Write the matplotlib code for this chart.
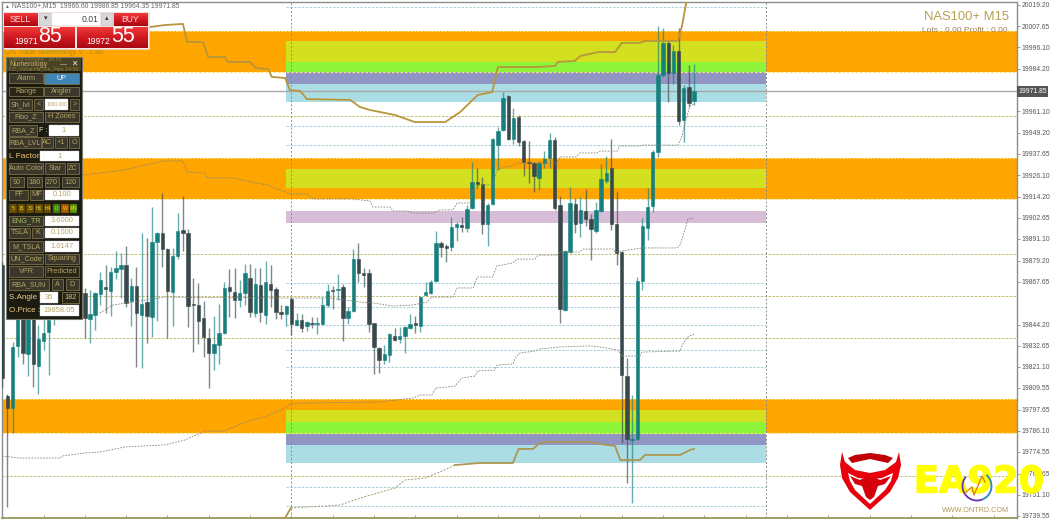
import numpy as np
import matplotlib
matplotlib.use('Agg')
import matplotlib.pyplot as plt
import matplotlib.patheffects as pe
from matplotlib.patches import Rectangle, Polygon, Arc

plt.rcParams['font.family'] = ['Liberation Sans', 'DejaVu Sans']

# candles, bar -1 is the first one at the left edge
highs = [19878.5,19806.3,19834.7,19857.7,19863.2,19857.7,19860.4,19844.0,19847.9,19857.7,
         19865.9,19874.1,19879.6,19882.3,19876.9,19874.1,19864.3,19863.2,19862.1,19873.0,
         19876.9,19875.8,19884.5,19883.5,19887.3,19869.8,19875.8,19894.4,19891.6,19908.6,
         19894.9,19916.3,19886.2,19886.2,19905.3,19914.6,19896.6,19869.8,19867.0,19857.2,
         19842.4,19848.9,19855.5,19867.6,19874.7,19875.2,19868.7,19877.4,19877.4,19875.2,
         19875.2,19879.1,19876.9,19864.8,19855.0,19855.0,19859.3,19850.6,19850.0,19846.2,
         19848.4,19848.4,19859.3,19866.5,19865.4,19871.9,19866.5,19853.9,19885.6,19888.9,
         19875.2,19874.7,19845.1,19832.0,19833.1,19839.6,19842.4,19842.9,19843.5,19850.0,
         19848.9,19859.9,19867.6,19868.7,19895.5,19890.0,19888.4,19903.1,19900.4,19903.1,
         19909.7,19933.2,19930.0,19925.0,19910.8,19946.4,19952.4,19971.5,19969.9,19962.8,
         19959.0,19945.3,19944.7,19933.2,19933.8,19939.2,19949.1,19946.9,19914.6,19885.1,
         19919.6,19913.5,19914.1,19918.5,19904.8,19911.3,19932.1,19936.5,19945.8,19916.8,
         19884.5,19826.0,19805.7,19870.3,19902.6,19919.0,19939.8,20007.7,20006.6,20000.0,
         19997.3,20006.6,19975.4,19986.3,19986.85]
lows = [19810.1,19744.4,19784.9,19826.5,19822.7,19816.1,19810.1,19806.3,19830.3,19816.7,
        19844.0,19849.5,19852.2,19855.0,19857.7,19855.0,19836.9,19834.2,19841.3,19855.0,
        19850.6,19848.9,19869.2,19858.8,19853.9,19843.5,19821.0,19820.5,19834.2,19837.5,
        19846.2,19875.8,19836.9,19843.5,19880.1,19884.5,19842.9,19829.2,19833.6,19826.5,
        19809.5,19819.4,19822.7,19839.1,19848.4,19847.9,19853.9,19855.0,19848.4,19848.4,
        19845.7,19844.6,19853.9,19847.3,19847.3,19843.5,19838.5,19843.5,19840.2,19840.7,
        19842.4,19839.1,19844.0,19853.9,19852.8,19857.7,19835.3,19844.6,19851.1,19867.6,
        19864.8,19840.2,19817.2,19817.8,19822.7,19823.8,19835.3,19834.2,19828.7,19841.8,
        19839.6,19840.2,19859.9,19861.0,19867.6,19881.2,19878.5,19884.5,19890.0,19894.9,
        19894.9,19907.5,19919.0,19893.8,19887.3,19909.7,19928.9,19950.2,19945.3,19943.1,
        19942.0,19925.6,19921.8,19916.8,19917.9,19930.0,19930.0,19907.0,19845.1,19851.7,
        19883.5,19894.4,19892.2,19898.2,19879.6,19894.4,19905.9,19921.8,19896.0,19876.9,
        19779.4,19757.6,19746.6,19781.1,19863.2,19890.5,19905.9,19936.0,19979.8,19966.1,
        19975.9,19953.5,19944.2,19963.3,19964.35]
opens = [19876.9,19805.2,19798.6,19832.6,19857.7,19828.2,19855.0,19821.6,19835.3,19840.2,
         19847.9,19868.7,19876.9,19860.4,19863.2,19871.4,19861.5,19847.3,19849.5,19861.0,
         19864.8,19862.6,19873.0,19874.7,19876.9,19857.2,19865.4,19849.5,19856.6,19848.4,
         19889.4,19894.4,19885.6,19862.1,19881.8,19896.0,19894.4,19855.5,19855.0,19847.9,
         19836.9,19828.7,19833.1,19839.6,19864.8,19862.1,19857.7,19861.5,19869.8,19850.6,
         19865.9,19849.5,19866.5,19863.7,19851.1,19850.0,19858.2,19844.0,19846.8,19843.5,
         19845.1,19844.6,19844.6,19855.0,19863.2,19863.2,19864.8,19847.9,19851.7,19880.1,
         19872.5,19872.5,19844.9,19831.4,19824.9,19827.6,19838.0,19836.4,19838.0,19842.4,
         19845.1,19843.5,19860.4,19861.5,19868.1,19888.9,19887.3,19886.7,19897.7,19898.8,
         19897.1,19908.1,19922.3,19921.2,19899.3,19910.2,19942.5,19950.7,19969.4,19945.8,
         19957.9,19944.7,19933.2,19932.7,19924.5,19932.7,19935.4,19945.3,19909.7,19852.2,
         19884.0,19910.2,19899.9,19906.4,19902.0,19895.5,19906.4,19922.8,19930.0,19899.3,
         19884.0,19816.1,19781.1,19781.6,19868.1,19897.1,19909.2,19938.7,19980.9,19998.4,
         19981.9,19994.0,19956.2,19974.3,19966.6]
closes = [19815.0,19798.6,19832.0,19852.2,19828.7,19852.2,19822.7,19836.4,19839.6,19846.8,
          19863.2,19857.7,19863.2,19876.9,19871.4,19862.1,19847.9,19850.0,19861.5,19868.7,
          19863.7,19873.0,19875.2,19876.9,19856.1,19865.4,19850.6,19855.5,19848.9,19889.4,
          19894.4,19885.6,19862.6,19881.8,19895.5,19894.4,19854.4,19855.0,19846.2,19837.5,
          19828.7,19833.6,19839.6,19864.3,19862.6,19857.7,19861.5,19872.5,19851.1,19866.5,
          19851.1,19867.6,19863.2,19851.1,19850.0,19854.4,19844.6,19846.8,19842.4,19845.7,
          19844.6,19845.1,19855.0,19862.6,19862.6,19863.7,19847.9,19851.7,19880.1,19872.5,
          19871.4,19844.6,19832.0,19824.9,19828.2,19839.1,19835.8,19838.0,19842.9,19844.6,
          19844.0,19859.3,19862.1,19867.6,19888.9,19886.7,19886.2,19897.7,19899.3,19897.7,
          19907.5,19922.3,19921.2,19899.3,19909.7,19945.8,19950.2,19968.3,19945.8,19957.3,
          19944.2,19933.2,19932.7,19925.6,19932.7,19934.9,19945.3,19908.1,19852.8,19884.5,
          19910.8,19899.3,19907.0,19902.0,19896.6,19907.0,19923.9,19927.2,19899.3,19883.5,
          19816.7,19781.6,19781.6,19868.1,19898.2,19908.6,19938.7,19980.9,19998.4,19981.9,
          19994.0,19955.7,19973.7,19965.5,19971.85]
bars = np.arange(-1, 134)

# indicator lines
upper_gold_x = [27.6,30.5,34,34.8,37.9,38.9,42.1,42.7,47,48.1,50.5,51.2,53.8,54.7,56.7,58,66.4,68.3,70.2,75,78.9,84.8,87.7,91.1,93.9,95,102.2,106.1,106.6,109.9,110.9,114.4,117.7,119,122.5,123.5,129.9,130.7,131.4,132]
upper_gold_y = [20007.1,20008.2,20008.8,19998.9,19998.9,19990.7,19990.7,19988,19988,19984.7,19984.1,19979.8,19979.2,19972.6,19972.1,19967.7,19967.2,19963.3,19961.7,19959,19955.1,19955.1,19960.6,19969.9,19971.5,19985.2,19985.2,19985.8,19988,19988.5,19991.2,19993.4,19993.4,19998.4,19998.4,19999.5,19999.5,20008.2,20019.2,20024.6]
lower_gold_x = [50.9,53.8,54.9,64.4,68.3,75.1,77,80.9,83.8,86.7,91.5,97.9,99,101.8,103.1,104.1,112.8,114.8,117.7,118.7,119,122.5,123.5,130.3,132.2,133]
lower_gold_y = [19738.4,19738.4,19743.9,19745.5,19749.3,19754.8,19759.2,19760.3,19763.6,19767.4,19768.5,19768.5,19776.2,19776.2,19779.4,19780,19780,19778.9,19777.8,19770.1,19770.1,19770.1,19772.9,19772.9,19775.6,19776.2]
low_dash_x = [-1,2.4,10.2,10.6,15,17.9,22.8,30.5,34.4,38.3,42.1,46,49.9,53.8,54.7,56.7,72.2,78.6,79.9,82.2,83,86.7,88,90.6,91.1,94.4,94.8,97.9,98.5,99.3,102.2,103.1,107,112.8,114.8,118.3,119,122.5,122.9,130.3,130.7,131.8,133]
low_dash_y = [19772.3,19771.2,19771.2,19772.3,19774,19774.5,19777.3,19778.4,19781.1,19786,19786,19790.9,19793.7,19798.6,19800.8,19801.3,19801.9,19804.1,19805.7,19805.7,19809.5,19810.6,19815,19816.1,19818.9,19819.4,19822.1,19822.7,19826.5,19828.7,19829.8,19830.9,19832,19832.6,19832,19830.3,19827,19827,19829.2,19829.8,19833.1,19837.5,19839.1]
mid_dash_x = [17.9,20.5,30.5,53.8,62.5,65.4,68.3,70.8,74.7,78.6,81.3,82.2,86.3,87.1,90.2,91,94,94.8,97.9,98.7,102.2,102.8,106.5,107,110.9,111.5,117.3,117.7,122.9,129.7,130.3,131.2,131.8,133]
mid_dash_y = [19850.6,19855,19859.3,19858.8,19858.8,19857.7,19856.6,19856.1,19854.4,19855,19856.6,19859.3,19859.3,19864.3,19864.3,19870.3,19870.3,19876.3,19878,19880.1,19880.1,19882.3,19882.3,19884,19884,19885.6,19885.6,19884,19886.2,19886.2,19887.8,19896,19902,19902.6]
high_dash_x = [14.6,17.9,22.8,26.8,30.1,34,34.8,38.3,38.7,43.7,46.4,50.3,52.8,55.1,58,59.2,66.9,70.2,70.8,74.1,74.7,77.4,78.6,82.4,83.8,86.3,87.1,89.6,90.2,91.5,94,94.8,96.4,97.9,98.5,106.5,107,110.1,110.9,114.2,114.8,118.1,118.6,122.5,123.1,129.9,130.7,131.4,132.2,133]
high_dash_y = [19926.1,19927.2,19928.9,19931.6,19933.8,19933.8,19927.8,19927.2,19924.5,19924.5,19922.8,19920.7,19917.9,19915.7,19915.7,19913,19913,19911.9,19908.6,19908.6,19906.4,19906.4,19905.3,19905.3,19907,19907,19910.8,19910.8,19917.9,19920.7,19920.7,19928.9,19930.5,19931,19932.7,19932.7,19936,19936,19938.2,19938.2,19939.2,19939.2,19942,19942,19942.5,19942.5,19948,19956.2,19963.9,19965]

# price levels
price_ticks = [20019.20,20007.65,19996.10,19984.20,19961.10,19949.20,19937.65,19926.10,19914.20,19902.65,19891.10,19879.20,19867.65,19844.20,19832.65,19821.10,19809.55,19797.65,19786.10,19774.55,19762.65,19751.10,19739.55]
current_price = 19971.85
khaki_levels = [19958.6,19882.9,19860.0,19837.0,19761.5]
blue_levels = [20017.9,19952.9,19942.5,19867.1,19853.9,19844.0,19830.3,19821.0,19755.4,19745.0]
orange_bands = [(20004.9,19982.5),(19935.4,19913.0),(19803.5,19784.9)]
zone_bands = [(19999.5,19988.0,'#d3e01f'),(19988.0,19982.5,'#8cf53a'),(19982.5,19975.9,'#9195c3'),(19975.9,19966.1,'#abdde4'),
              (19929.4,19919.0,'#d3e01f'),
              (19906.4,19899.9,'#d8bdd8'),
              (19797.5,19790.9,'#d3e01f'),(19790.9,19784.4,'#8cf53a'),(19784.4,19778.4,'#9195c3'),(19778.4,19768.5,'#abdde4')]
zone_start, zone_end = 54, 146.9
v_lines = [54.9, 146.9]

fig = plt.figure(figsize=(10.61, 5.21), dpi=100, facecolor='white')
ax = fig.add_axes([2/1061, 3/521, 1015/1061, 516/521])
ax.set_xlim(-1.05, 195.55)
ax.set_ylim(19738.4, 20020.8)

for top, bottom in orange_bands:
    ax.axhspan(bottom, top, color='#ffa500', lw=0, zorder=1)
    ax.axhline(top, color='#ffe27a', lw=0.7, ls=(0, (2, 1.5)), zorder=1.2)
    ax.axhline(bottom, color='#ffe27a', lw=0.9, ls=(0, (2, 1.5)), zorder=1.2)
for top, bottom, col in zone_bands:
    ax.fill_between([zone_start, zone_end], bottom, top, color=col, lw=0, zorder=1.1)

ax.hlines(khaki_levels, -1.05, 195.55, color='#c4bb70', lw=0.7, ls=(0, (2.5, 1.5)), zorder=1.5)
ax.hlines(blue_levels, zone_start, zone_end, color='#a5cfda', lw=0.7, ls=(0, (2.5, 1.5)), zorder=1.5)
ax.axhline(current_price, color='#a8a8a8', lw=1.0, zorder=2)
for v in v_lines:
    ax.axvline(v, color='#8c8c8c', lw=0.7, ls=(0, (2, 2)), zorder=2)

# candles
teal, dark = '#17807f', '#38484b'
up = np.array(closes) >= np.array(opens)
colors = [teal if u else dark for u in up]
ax.vlines(bars, lows, highs, colors=colors, lw=1.0, alpha=0.65, zorder=3)
body_low = np.minimum(opens, closes)
body_height = np.abs(np.array(closes) - np.array(opens))
ax.bar(bars, body_height, bottom=body_low, width=0.66, color=colors, edgecolor=colors, lw=0.4, zorder=4)

ax.plot(upper_gold_x, upper_gold_y, color='#b8963c', lw=1.3, zorder=5)
# the lower line is dotted in its middle stretch
ax.plot(lower_gold_x[:3], lower_gold_y[:3], color='#ae9650', lw=1.3, zorder=5)
ax.plot(lower_gold_x[2:10], lower_gold_y[2:10], color='#a09a70', lw=0.7, ls=(0, (2, 1.5)), zorder=5)
ax.plot(lower_gold_x[9:], lower_gold_y[9:], color='#ae9650', lw=1.3, zorder=5)
for xs, ys in [(low_dash_x, low_dash_y), (mid_dash_x, mid_dash_y), (high_dash_x, high_dash_y)]:
    ax.plot(xs, ys, color='#85857a', lw=0.6, ls=(0, (2, 1.5)), zorder=5)

ax.yaxis.tick_right()
ax.set_yticks(price_ticks)
ax.set_yticklabels(['%.2f' % p for p in price_ticks], fontsize=4.9, color='#555555')
ax.set_xticks(np.arange(7, 195, 8))
ax.set_xticklabels([])
ax.tick_params(axis='y', length=2, width=0.5, color='#777777', pad=1.2)
ax.tick_params(axis='x', direction='in', length=2, width=0.5, color='#8a8a50')
for side in ['top', 'left', 'right']:
    ax.spines[side].set_color('#8c8c8c')
    ax.spines[side].set_linewidth(1.0)
ax.spines['bottom'].set_color('#8f8f50')
ax.spines['bottom'].set_linewidth(1.2)
ax.text(1.0012, current_price, '19971.85', transform=ax.get_yaxis_transform(), fontsize=4.9, color='white',
        va='center', ha='left', bbox=dict(facecolor='#555555', edgecolor='none', pad=1.2), zorder=10)

# pixel overlay for the terminal widgets
ov = fig.add_axes([0, 0, 1, 1], facecolor='none')
ov.set_xlim(0, 1061)
ov.set_ylim(521, 0)
ov.axis('off')


def box(x0, y0, x1, y1, face, edge='none', lw=0.6, z=20):
    ov.add_patch(Rectangle((x0, y0), x1 - x0, y1 - y0, facecolor=face, edgecolor=edge, lw=lw, zorder=z))


def label(x, y, s, color='#b8a868', size=5.0, ha='center', z=22, **kw):
    ov.text(x, y, s, color=color, fontsize=size, ha=ha, va='center', zorder=z, **kw)


def button(x0, y0, x1, y1, s, face='#3b382b', color='#b4a463', size=5.2):
    box(x0, y0, x1, y1, face, '#7b7048')
    label((x0 + x1) / 2, (y0 + y1) / 2, s, color, size)


def field(x0, y0, x1, y1, s, size=5.4):
    box(x0, y0, x1, y1, 'white', '#d0d0d0', 0.3)
    label((x0 + x1) / 2, (y0 + y1) / 2, s, '#b8a468', size)


# header
label(4, 6, '\u25b2', '#666666', 3.5, ha='left')
label(12, 6, 'NAS100+,M15  19966.60 19986.85 19964.35 19971.85', '#666666', 4.9, ha='left')

# one click trading
gradient = np.linspace(0, 1, 32).reshape(-1, 1)
red_map = matplotlib.colors.LinearSegmentedColormap.from_list('red_btn', ['#f03a3a', '#d01820', '#a80a12'])
box(3.5, 12, 148.5, 49, '#f4e4e4', '#ecd8d8', 0.5, z=19)
for x0, x1, y0, y1 in [(4, 38, 13, 26), (114, 148, 13, 26), (4, 75, 27, 48), (77, 148, 27, 48)]:
    ov.imshow(gradient, extent=(x0, x1, y1, y0), cmap=red_map, aspect='auto', zorder=20)
box(39, 13, 52, 25, '#d8d8d8', '#c0c0c0', 0.4)
box(101, 13, 113, 25, '#d8d8d8', '#c0c0c0', 0.4)
box(52, 13, 100, 25, 'white')
label(20, 19, 'SELL', '#ffd8d8', 6.2)
label(130, 19, 'BUY', '#ffd8d8', 6.2)
label(45.5, 18.5, '\u25be', '#333333', 5)
label(106.5, 18.5, '\u25b4', '#333333', 5)
label(98, 19, '0.01', '#444444', 6.2, ha='right')
label(26, 41, '19971', 'white', 6.2)
label(50, 37, '85', 'white', 15.5)
label(98, 41, '19972', 'white', 6.2)
label(123, 37, '55', 'white', 15.5)
ov.set_xlim(0, 1061)
ov.set_ylim(521, 0)

label(5, 52.5, 'ON Trade Numerology V : 2.60', '#a88e10', 5.1, ha='left', z=18)

# numerology panel
box(6, 57, 82, 319, '#1c1b12', '#77776a', 0.8)
box(7, 58, 81, 71, '#4a4326', z=20.5)
label(9, 64, 'Numerology', '#c8b878', 5.0, ha='left')
label(9, 60, 'Swing Ranged : 39.55', '#8f7f38', 3.8, ha='left', z=21)
label(9, 69, 'CD_Value Hit_On_Pips 14.50', '#8f7f38', 3.8, ha='left', z=21)
label(64, 65, '\u2014', '#c8c8c8', 5)
label(74, 64, '\u2715', '#e8e8e8', 5.5)

button(9, 73, 43, 83, 'Alarm')
button(44, 73, 79, 84, 'UP', '#3f86b8', '#e8f0f4')
button(9, 87, 43, 96, 'Range', '#2a2615')
button(44, 87, 79, 96, 'Angler')
button(9, 99, 32, 110, 'Sh_lvl', '#3b382b', '#a8b060')
button(34, 99, 43, 110, '<')
field(45, 99, 68, 110, '1000.000', 3.5)
button(70, 99, 79, 110, '>')
button(9, 112, 43, 122, 'Fibo_Z')
button(45, 112, 79, 122, 'H Zones')
button(9, 125, 37, 136, 'RBA_Z')
label(43, 130.5, 'F :', '#f0e8c8', 5.2)
field(49, 125, 79, 136, '1')
button(9, 137, 41, 148, 'RBA_LVL')
button(42, 137, 53, 148, 'AC')
button(55, 137, 67, 148, '+1')
button(69, 137, 79, 148, 'O')
label(9, 156.5, 'L Factor :', '#f0c870', 6, ha='left')
field(40, 151, 79, 161, '1')
button(9, 163, 43, 174, 'Auto Color')
button(45, 163, 65, 174, 'Star')
button(67, 163, 79, 174, 'ZC')
button(10, 177, 24, 187, '90')
button(27, 177, 42, 187, '180')
button(45, 177, 59, 187, '270')
button(62, 177, 79, 187, '120')
button(9, 190, 28, 200, 'FF')
button(30, 190, 43, 200, 'MF')
field(45, 190, 79, 200, '0.100')
tf_labels = ['5', '15', '30', 'H1', 'H4', 'D', 'W', 'MN']
tf_colors = ['#6b4f00', '#6b4f00', '#6b4f00', '#6b4f00', '#6b4f00', '#3f8a08', '#a85a00', '#5a9a08']
for n, (s, c) in enumerate(zip(tf_labels, tf_colors)):
    box(9 + n * 8.7, 204, 16.5 + n * 8.7, 213, c, '#33301c', 0.3)
    label(12.8 + n * 8.7, 208.5, s, '#e8d040', 3.6)
button(9, 216, 43, 226, 'ENG_TR', '#3b382b', '#a8c060')
field(45, 216, 79, 226, '3.6000')
button(9, 228, 30, 238, 'TSLA')
button(32, 228, 43, 238, 'K')
field(45, 228, 79, 238, '0.1000')
button(9, 241, 43, 252, 'M_TSLA')
field(45, 241, 79, 252, '1.0147')
button(9, 254, 43, 264, 'UN_Code')
button(45, 254, 79, 264, 'Squaring')
button(9, 266, 43, 277, 'VPR', '#3b382b')
button(45, 266, 79, 277, 'Predicted', '#2a2615')
button(9, 279, 49, 290, 'RBA_SUN')
button(52, 279, 63, 290, 'A')
button(66, 279, 79, 290, 'D')
label(9, 297.5, 'S.Angle :', '#f0d088', 5.8, ha='left')
field(40, 292, 58, 303, '36')
button(62, 292, 79, 303, '182', '#2a2615', '#d0c088')
label(9, 310.5, 'O.Price :', '#f0d088', 5.8, ha='left')
field(40, 305, 79, 316, '19858.05')

# symbol text top right
label(966, 17, 'NAS100+ M15', '#b8a050', 9.4)
label(965, 30, 'Lots : 0.00 Profit : 0.00', '#a0805a', 6.0)

# logo
ov.add_patch(Polygon([(842,452),(840,465),(842,478),(850,492),(870,510),(890,492),(898,478),(901,465),(899,452),(896,462),(885,470),(870,473),(855,470),(845,462)], facecolor='#e8000c', edgecolor='none', zorder=24))
ov.add_patch(Polygon([(848,473),(858,478),(870,479),(882,478),(893,473),(891,481),(885,490),(870,504),(855,490),(850,481)], facecolor='white', edgecolor='none', zorder=25))
ov.add_patch(Polygon([(850,476),(860,480),(864,478),(876,478),(880,480),(891,476),(885,484),(878,486),(874,497),(870,500),(866,497),(862,486),(855,484)], facecolor='#d4000a', edgecolor='none', zorder=26))
ov.add_patch(Polygon([(848,458),(855,455),(870,453),(885,455),(893,458),(888,463),(870,459),(852,463)], facecolor='#c00008', edgecolor='none', zorder=26))
brand = ov.text(979, 482, 'EA920', color='#ffff00', fontsize=26.5, fontweight='bold', family='DejaVu Sans', ha='center', va='center', zorder=27)
brand.set_path_effects([pe.withStroke(linewidth=1.0, foreground='#ffff00')])
ov.add_patch(Arc((977, 486), 29, 29, theta1=-50, theta2=70, color='#2b86c0', lw=1.3, zorder=28))
ov.add_patch(Arc((977, 486), 29, 29, theta1=70, theta2=220, color='#6a30b0', lw=1.3, zorder=28))
ov.plot([966, 972, 974, 982, 985], [492, 487, 495, 476, 482], color='#e07820', lw=0.9, zorder=28)
label(976, 510, 'WWW.ONTRD.COM', '#b09a58', 5.2, z=28)

fig.savefig('out.png', dpi=100)
